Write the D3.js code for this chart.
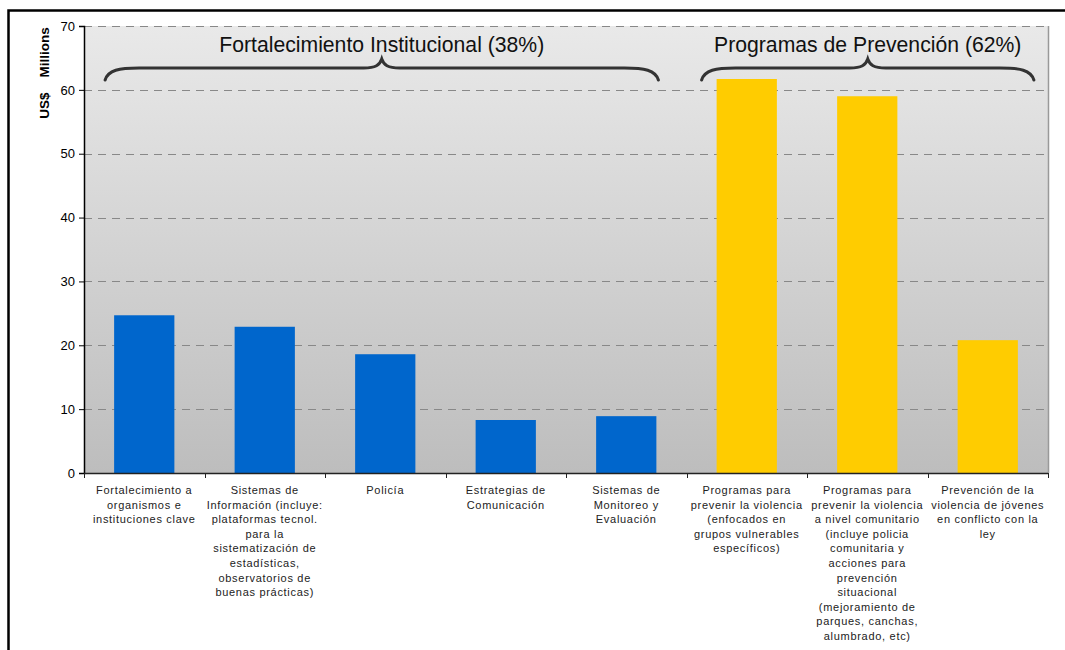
<!DOCTYPE html>
<html><head><meta charset="utf-8">
<script src="https://cdn.jsdelivr.net/npm/d3@7"></script>
<style>body{margin:0;background:#fff;}svg{display:block;font-family:"Liberation Sans",Arial,sans-serif;}</style>
</head><body><svg id="c" width="1065" height="650"></svg>
<script>
const categories = [
  ["Fortalecimiento a","organismos e","instituciones clave"],
  ["Sistemas de","Información (incluye:","plataformas tecnol.","para la","sistematización de","estadísticas,","observatorios de","buenas prácticas)"],
  ["Policía"],
  ["Estrategias de","Comunicación"],
  ["Sistemas de","Monitoreo y","Evaluación"],
  ["Programas para","prevenir la violencia","(enfocados en","grupos vulnerables","específicos)"],
  ["Programas para","prevenir la violencia","a nivel comunitario","(incluye policia","comunitaria y","acciones para","prevención","situacional","(mejoramiento de","parques, canchas,","alumbrado, etc)"],
  ["Prevención de la","violencia de jóvenes","en conflicto con la","ley"]
];
const values = [24.7, 22.9, 18.6, 8.3, 8.9, 61.7, 59.0, 20.8];
const groups = [0,0,0,0,0,1,1,1];
const groupColors = ["#0066cc", "#ffcc00"];
const yTicks = [0,10,20,30,40,50,60,70];
const braceGroups = [
  {label:"Fortalecimiento Institucional (38%)", from:0, to:4},
  {label:"Programas de Prevención (62%)", from:5, to:7}
];
const yLabel = "US$    Millions";

const svg = d3.select("#c");
const L = 84, R = 1048, T = 26, B = 473;
const idx = d3.range(categories.length);
const x = d3.scaleBand().domain(idx).range([L, R]).paddingInner(0.5).paddingOuter(0.25);
const y = d3.scaleLinear().domain([0, 70]).range([B, T]);

// outer border
svg.append("path").attr("d", `M8.5,650 V10.5 H1065`).attr("fill","none").attr("stroke","#000").attr("stroke-width",2.5);

// gradient background
const defs = svg.append("defs");
const g = defs.append("linearGradient").attr("id","bg").attr("x1",0).attr("y1",0).attr("x2",0).attr("y2",1);
g.append("stop").attr("offset","0%").attr("stop-color","#e9e9e9");
g.append("stop").attr("offset","100%").attr("stop-color","#bdbdbd");
svg.append("rect").attr("x",L).attr("y",T).attr("width",R-L).attr("height",B-T).attr("fill","url(#bg)");
svg.append("line").attr("x1",R+0.5).attr("x2",R+0.5).attr("y1",T).attr("y2",B).attr("stroke","#999").attr("stroke-width",1.5);

// grid
svg.append("g").selectAll("line").data(yTicks.filter(d=>d>0)).join("line")
  .attr("x1",L).attr("x2",R).attr("y1",d=>Math.round(y(d))+0.5).attr("y2",d=>Math.round(y(d))+0.5)
  .attr("stroke","#888").attr("stroke-width",1).attr("stroke-dasharray","8,6");

// bars
svg.append("g").selectAll("rect").data(idx).join("rect")
  .attr("x",i=>x(i)).attr("width",x.bandwidth())
  .attr("y",i=>y(values[i])).attr("height",i=>y(0)-y(values[i]))
  .attr("fill",i=>groupColors[groups[i]]);

// y axis
const ya = svg.append("g").attr("transform",`translate(${L},0)`)
  .call(d3.axisLeft(y).tickValues(yTicks).tickSize(5).tickPadding(4));
ya.select(".domain").attr("stroke","#000").attr("stroke-width",1.5);
ya.selectAll(".tick line").attr("stroke","#000");
ya.selectAll(".tick text").attr("font-size",13).attr("fill","#000").attr("font-family","Liberation Sans, Arial, sans-serif");

// x axis
const boundaries = d3.range(categories.length+1).map(i => L + i*(R-L)/categories.length);
svg.append("line").attr("x1",L).attr("x2",R).attr("y1",B+0.5).attr("y2",B+0.5).attr("stroke","#222").attr("stroke-width",1.5);
svg.append("g").selectAll("line").data(boundaries).join("line")
  .attr("x1",d=>Math.round(d)+0.5).attr("x2",d=>Math.round(d)+0.5).attr("y1",B).attr("y2",B+5).attr("stroke","#222");

// category labels
const cl = svg.append("g").selectAll("text").data(idx).join("text")
  .attr("x",i=>x(i)+x.bandwidth()/2).attr("y",494)
  .attr("text-anchor","middle").attr("font-size",11).attr("fill","#222").attr("letter-spacing","0.7px");
cl.each(function(i){
  const t = d3.select(this);
  categories[i].forEach((line,k)=>{
    t.append("tspan").attr("x",x(i)+x.bandwidth()/2).attr("dy",k===0?0:14.6).text(line);
  });
});

// y label
svg.append("text").attr("transform",`translate(49,73) rotate(-90)`).attr("text-anchor","middle")
  .attr("font-size",13.5).attr("font-weight","bold").attr("fill","#000").style("white-space","pre").text(yLabel);

// braces
function brace(x1, x2, tipX, yEnd, yMid, yTip){
  const r = 22;
  return `M${x1},${yEnd} C${x1+3},${yMid+2} ${x1+14},${yMid} ${x1+r+12},${yMid} `+
    `L${tipX-18},${yMid} C${tipX-6},${yMid} ${tipX-2},${yMid-3} ${tipX},${yTip} `+
    `C${tipX+2},${yMid-3} ${tipX+6},${yMid} ${tipX+18},${yMid} `+
    `L${x2-r-12},${yMid} C${x2-14},${yMid} ${x2-3},${yMid+2} ${x2},${yEnd}`;
}
const bracePad = [[9, 2], [15, 16]];
braceGroups.forEach((bg,k)=>{
  const x1 = x(bg.from) - bracePad[k][0], x2 = x(bg.to) + x.bandwidth() + bracePad[k][1];
  const cx = (x1+x2)/2;
  svg.append("path").attr("d",brace(x1,x2,cx,80,68,59)).attr("fill","none").attr("stroke","#333").attr("stroke-width",3).attr("stroke-linecap","round");
  svg.append("text").attr("x",cx).attr("y",52).attr("text-anchor","middle").attr("font-size",21.2).attr("fill","#111").text(bg.label);
});
</script></body></html>
